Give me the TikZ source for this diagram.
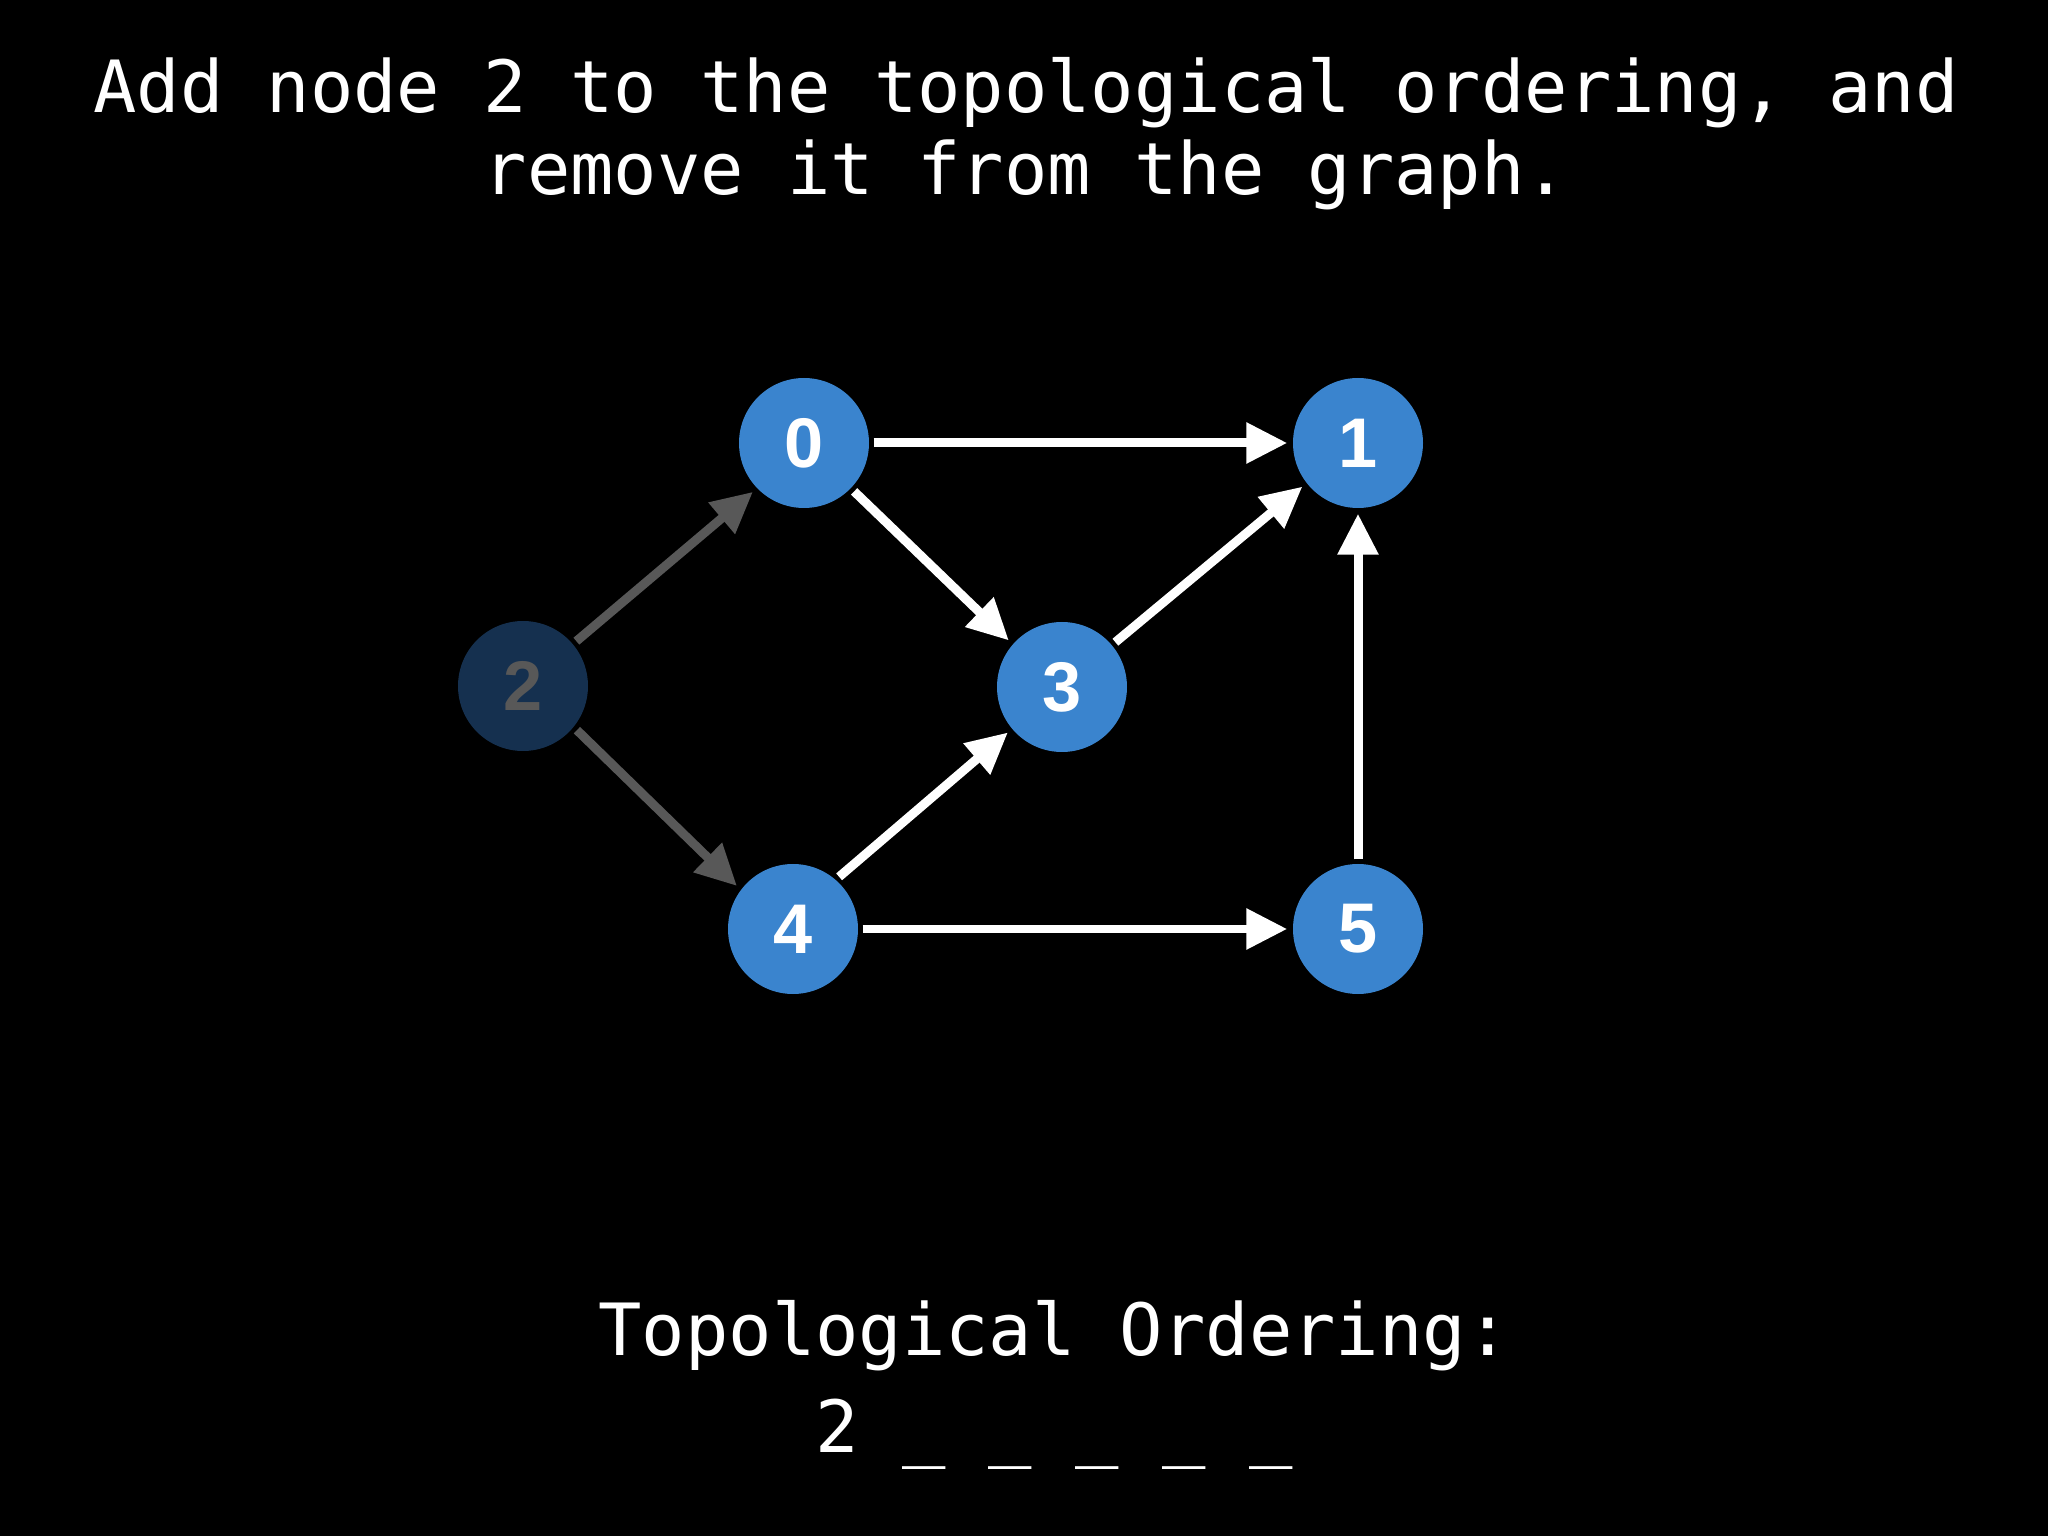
\documentclass[tikz,border=0pt]{standalone}
\usepackage{fontspec}
\setmainfont{DejaVu Sans Mono}
\setsansfont{Liberation Sans}
\usetikzlibrary{arrows.meta}
\definecolor{nodeblue}{RGB}{58,132,206}
\definecolor{fadeblue}{RGB}{21,48,79}
\definecolor{fadegray}{RGB}{88,88,88}
\tikzset{
  vertex/.style={circle, fill=nodeblue, minimum size=1.3cm, inner sep=0pt, text=white,
    font=\sffamily\bfseries\fontsize{20}{20}\selectfont},
  faded/.style={fill=fadeblue, text=fadegray},
  edge/.style={draw=white, line width=0.09cm, -{Triangle[length=0.41cm,width=0.39cm]},
    shorten <=0.04cm, shorten >=0.05cm},
  oldedge/.style={edge, draw=fadegray},
  caption/.style={text=white, anchor=base, inner sep=0pt, font=\fontsize{20.5}{23}\selectfont}
}
\begin{document}
\begin{tikzpicture}
\fill [black] (0,0) rectangle (20.48,-15.36);
\useasboundingbox (0,0) rectangle (20.48,-15.36);
% text
\node [caption] (title1) at (10.26,-1.13) {Add node 2 to the topological ordering, and};
\node [caption] (title2) at (10.26,-1.95) {remove it from the graph.};
\node [caption] (order1) at (10.54,-13.55) {Topological Ordering:};
\node [caption] (order2) at (10.54,-14.52) {2 \_ \_ \_ \_ \_};
% graph
\node [vertex] (n0) at (8.04,-4.43) {0};
\node [vertex] (n1) at (13.58,-4.43) {1};
\node [vertex, faded] (n2) at (5.23,-6.86) {2};
\node [vertex] (n3) at (10.62,-6.87) {3};
\node [vertex] (n4) at (7.93,-9.29) {4};
\node [vertex] (n5) at (13.58,-9.29) {5};
\draw [oldedge] (n2.40) -- (n0.224);
\draw [oldedge] (n2.-39) -- (n4.143);
\draw [edge] (n0) -- (n1);
\draw [edge] (n0.-44) -- (n3.139);
\draw [edge] (n3.40) -- (n1.218);
\draw [edge] (n4.49) -- (n3.220);
\draw [edge] (n4) -- (n5);
\draw [edge] (n5) -- (n1);
\end{tikzpicture}
\end{document}
